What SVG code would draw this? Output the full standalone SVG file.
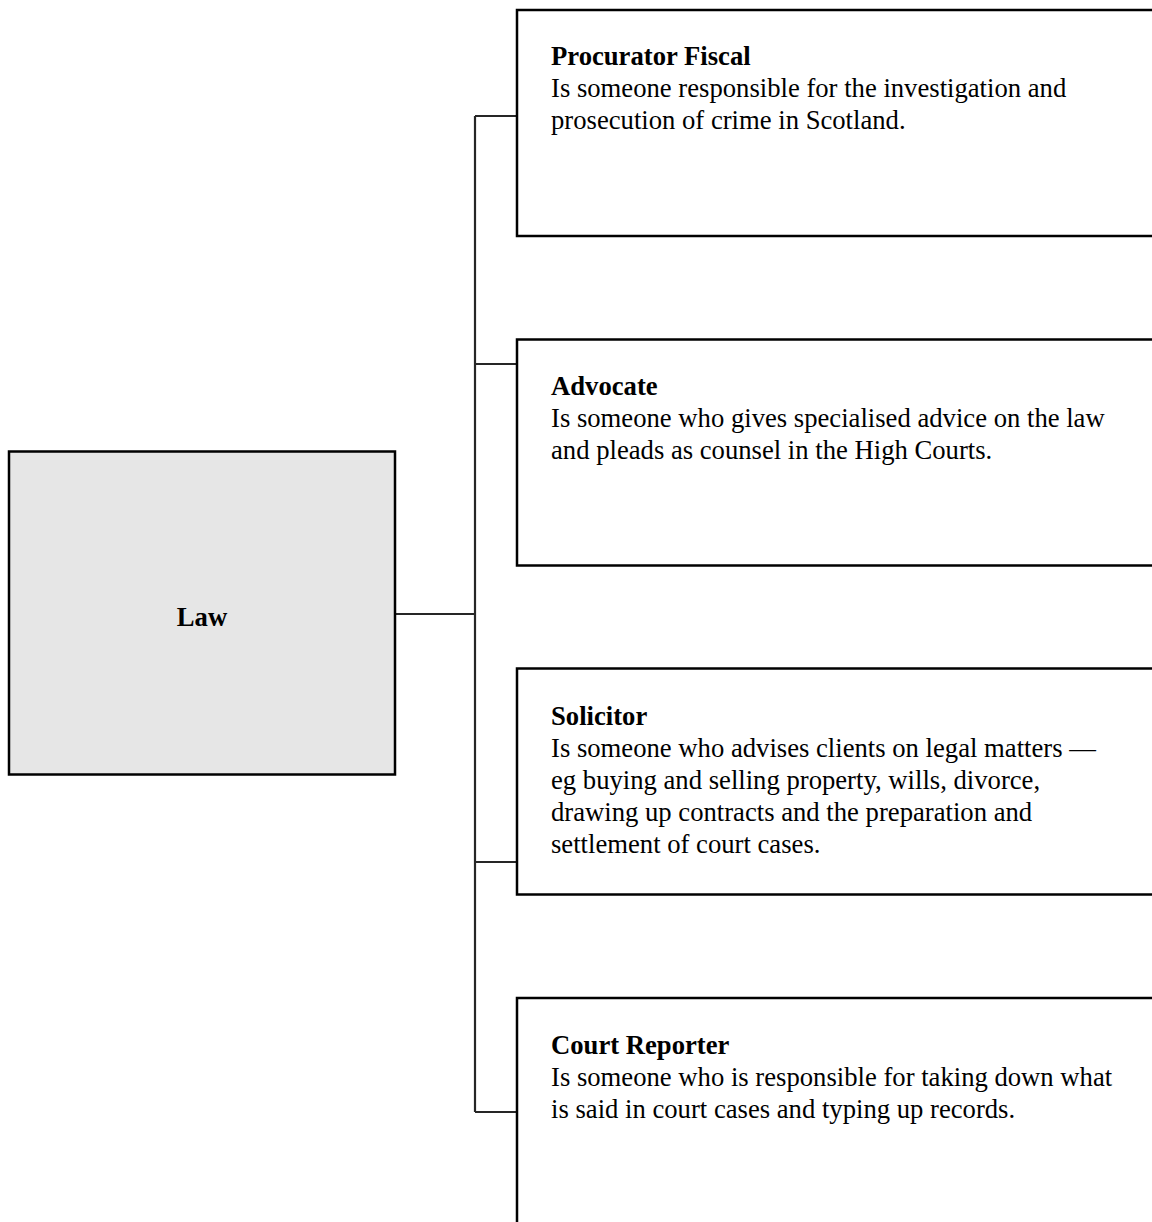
<svg xmlns="http://www.w3.org/2000/svg" width="1152" height="1222" viewBox="0 0 1152 1222">
<style>
.box{fill:#ffffff;stroke:#000000;stroke-width:2.5}
.root{fill:#e6e6e6;stroke:#000000;stroke-width:2.5}
.conn{fill:none;stroke:#262626;stroke-width:2.2}
text{font-family:"Liberation Serif","Times New Roman",serif;font-size:26.67px;fill:#000000}
.t{font-weight:bold}
</style>
<rect x="0" y="0" width="1152" height="1222" fill="#ffffff"/>
<g id="connectors">
<path class="conn" d="M395,614 H475"/>
<path class="conn" d="M475,116 V1112"/>
<path class="conn" d="M475,116 H517"/>
<path class="conn" d="M475,364 H517"/>
<path class="conn" d="M475,862 H517"/>
<path class="conn" d="M475,1112 H517"/>
</g>
<g id="law">
<rect class="root" x="9" y="451.5" width="386" height="323"/>
<text class="t" x="202" y="626" text-anchor="middle">Law</text>
</g>
<g id="procurator-fiscal">
<rect class="box" x="517" y="10" width="660" height="226"/>
<text class="t" x="551" y="65">Procurator Fiscal</text>
<text x="551" y="97">Is someone responsible for the investigation and</text>
<text x="551" y="129">prosecution of crime in Scotland.</text>
</g>
<g id="advocate">
<rect class="box" x="517" y="339.5" width="660" height="226"/>
<text class="t" x="551" y="395">Advocate</text>
<text x="551" y="427">Is someone who gives specialised advice on the law</text>
<text x="551" y="459">and pleads as counsel in the High Courts.</text>
</g>
<g id="solicitor">
<rect class="box" x="517" y="668.5" width="660" height="226"/>
<text class="t" x="551" y="725">Solicitor</text>
<text x="551" y="757">Is someone who advises clients on legal matters —</text>
<text x="551" y="789">eg buying and selling property, wills, divorce,</text>
<text x="551" y="821">drawing up contracts and the preparation and</text>
<text x="551" y="853">settlement of court cases.</text>
</g>
<g id="court-reporter">
<rect class="box" x="517" y="998" width="660" height="260"/>
<text class="t" x="551" y="1054">Court Reporter</text>
<text x="551" y="1086">Is someone who is responsible for taking down what</text>
<text x="551" y="1118">is said in court cases and typing up records.</text>
</g>
</svg>
